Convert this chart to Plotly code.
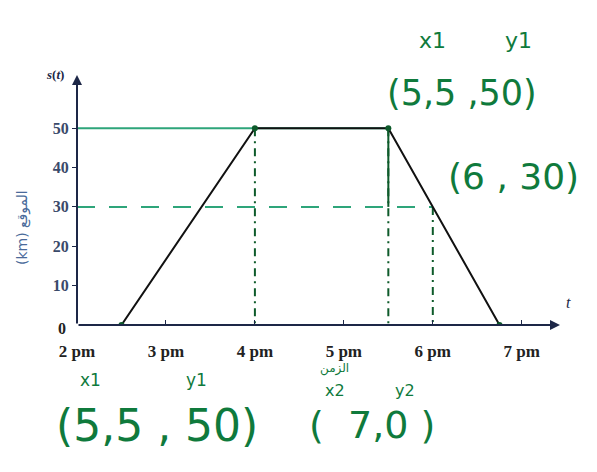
import plotly.graph_objects as go

# Position–time data (hours after noon, km)
trip_t = [14.5, 16.0, 17.5, 18.75]
trip_s = [0, 50, 50, 0]

tick_hours = [14, 15, 16, 17, 18, 19]
tick_text = ["2 pm", "3 pm", "4 pm", "5 pm", "6 pm", "7 pm"]
y_ticks = [10, 20, 30, 40, 50]

p1 = (17.5, 50)   # (x1, y1)
p2 = (18.0, 30)
p_end = (18.75, 0)

X0, X1 = 14.0, 19.43
Y0, Y1 = 0.0, 63.5

AXIS = "#1d2747"
INK = "#0f7a3c"
DARK_GREEN = "#0d5a2a"
TEAL = "#2ea57a"

fig = go.Figure()

# green guide at 50 km
fig.add_trace(go.Scatter(x=[X0, p1[0]], y=[p1[1], p1[1]], mode="lines",
                         line=dict(color=TEAL, width=2), hoverinfo="skip"))
# green guide at 30 km
fig.add_trace(go.Scatter(x=[X0, p2[0]], y=[p2[1], p2[1]], mode="lines",
                         line=dict(color=TEAL, width=2, dash="18px,14px"), hoverinfo="skip"))
# drop lines to the time axis
for (tx, sy) in [(trip_t[1], trip_s[1]), (p1[0], p1[1]), (p2[0], p2[1])]:
    fig.add_trace(go.Scatter(x=[tx, tx], y=[sy, 0], mode="lines",
                             line=dict(color=DARK_GREEN, width=2, dash="8px,5px,2px,5px"),
                             hoverinfo="skip"))
fig.add_trace(go.Scatter(x=[p1[0], p1[0]], y=[p1[1], p2[1]], mode="lines",
                         line=dict(color=DARK_GREEN, width=2), hoverinfo="skip"))

# the trip itself
fig.add_trace(go.Scatter(x=trip_t, y=trip_s, mode="lines",
                         line=dict(color="#111111", width=2), hoverinfo="skip"))
fig.add_trace(go.Scatter(x=[trip_t[0], trip_t[1], p1[0], p_end[0]],
                         y=[trip_s[0], trip_s[1], p1[1], p_end[1]], mode="markers",
                         marker=dict(color=DARK_GREEN, size=6), hoverinfo="skip"))

def px(xp):
    return (xp - 77) / 483.0

def py(yp):
    return (325 - yp) / 250.0

ann = []
# axis arrows
ann.append(dict(x=X1, y=0, ax=X0, ay=0, xref="x", yref="y", axref="x", ayref="y",
                showarrow=True, arrowhead=2, arrowsize=1, arrowwidth=2, arrowcolor=AXIS, text=""))
ann.append(dict(x=X0, y=Y1, ax=X0, ay=0, xref="x", yref="y", axref="x", ayref="y",
                showarrow=True, arrowhead=2, arrowsize=1, arrowwidth=2, arrowcolor=AXIS, text=""))

def label(xp, yp, text, size, family, color, angle=0):
    ann.append(dict(x=px(xp), y=py(yp), xref="paper", yref="paper", text=text,
                    xanchor="center", yanchor="middle", textangle=angle,
                    showarrow=False, font=dict(family=family, size=size, color=color)))

serif = "Liberation Serif"
label(55, 74, "<b><i>s</i>(<i>t</i>)</b>", 13, serif, AXIS)
label(568, 302, "<i>t</i>", 16, serif, AXIS)
label(62, 328, "<b>0</b>", 16, serif, "#222")
label(22, 228, "(km) الموقع", 14, "DejaVu Sans", "#4a6a9a", -90)

hand = "DejaVu Sans"
def note(xp, yp, text, size):
    label(xp, yp, text, size, hand, INK)

note(432, 40, "x1", 22)
note(518, 40, "y1", 22)
note(462, 93, f"(5,5 ,{p1[1]})", 35)
note(513, 176, f"({int(p2[0] - 12)} , {p2[1]})", 36)
note(90, 380, "x1", 17)
note(196, 380, "y1", 17)
note(157, 425, f"(5,5 , {p1[1]})", 44)
note(334, 368, "الزمن", 12)
note(335, 390, "x2", 16)
note(405, 390, "y2", 16)
note(372, 425, "(  7,0 )", 38)

fig.update_layout(
    width=597, height=472,
    margin=dict(l=77, r=37, t=75, b=147),
    paper_bgcolor="white", plot_bgcolor="white",
    showlegend=False,
    annotations=ann,
    xaxis=dict(range=[X0, X1], tickvals=tick_hours, ticktext=tick_text,
               showgrid=False, zeroline=False, showline=False,
               ticks="inside", ticklen=5, tickcolor=AXIS, ticklabelstandoff=14,
               tickfont=dict(family=serif, size=17, color="#222", weight="bold")),
    yaxis=dict(range=[Y0, Y1], tickvals=y_ticks,
               showgrid=False, zeroline=False, showline=False,
               ticks="outside", ticklen=4, tickcolor=AXIS,
               tickfont=dict(family=serif, size=16, color="#3a4a6a", weight="bold")),
)

fig.write_html("out.html")
